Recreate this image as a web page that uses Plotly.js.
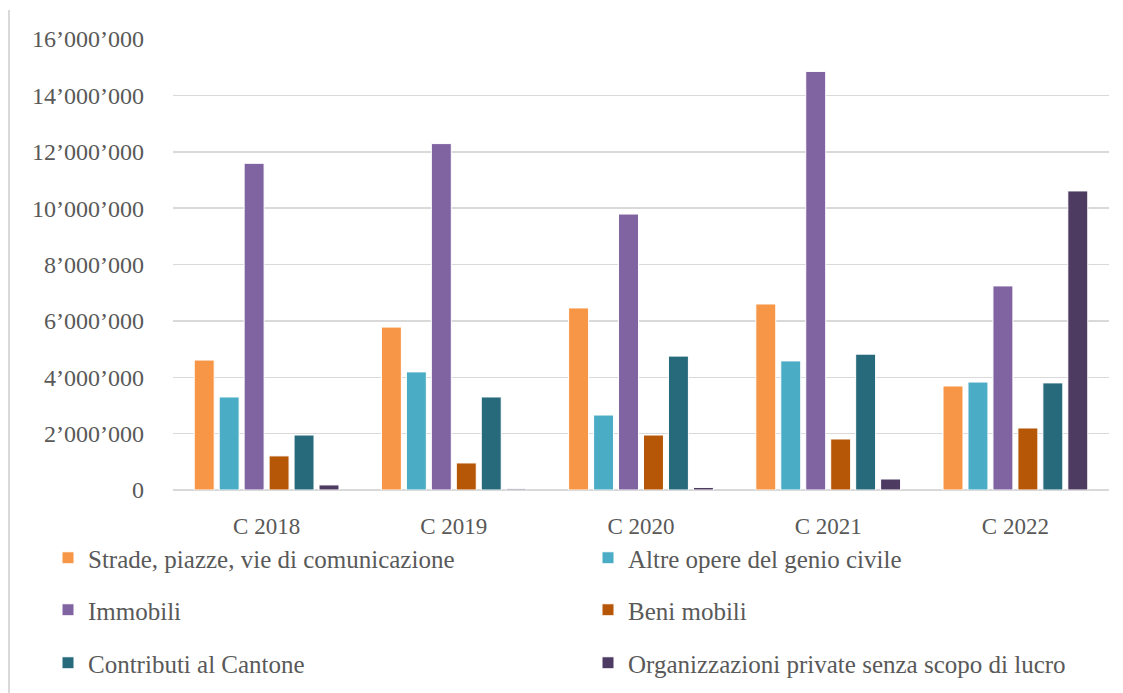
<!DOCTYPE html>
<html>
<head>
<meta charset="utf-8">
<script src="https://cdn.plot.ly/plotly-3.0.1.min.js"></script>
<style>
html,body{margin:0;padding:0;background:#fff;}
#chart{width:1123px;height:693px;}
</style>
</head>
<body>
<div id="chart"></div>
<script>
const categories = ["C 2018", "C 2019", "C 2020", "C 2021", "C 2022"];
const seriesNames = [
  "Strade, piazze, vie di comunicazione",
  "Altre opere del genio civile",
  "Immobili",
  "Beni mobili",
  "Contributi al Cantone",
  "Organizzazioni private senza scopo di lucro"
];
const strade = [4610000, 5780000, 6460000, 6600000, 3690000];
const altreOpere = [3300000, 4190000, 2660000, 4580000, 3830000];
const immobili = [11590000, 12290000, 9790000, 14850000, 7240000];
const beniMobili = [1210000, 960000, 1950000, 1810000, 2200000];
const contributi = [1950000, 3300000, 4750000, 4820000, 3800000];
const organizzazioni = [180000, 40000, 90000, 390000, 10610000];
const yTicks = [0, 2000000, 4000000, 6000000, 8000000, 10000000, 12000000, 14000000, 16000000];

const seriesValues = [strade, altreOpere, immobili, beniMobili, contributi, organizzazioni];
const colors = ["#F79646", "#4BACC6", "#8064A2", "#B65708", "#276A7C", "#4D3B62"];
const legendIds = ["legend", "legend2", "legend3", "legend4", "legend5", "legend6"];

const FONT = "Liberation Serif, DejaVu Serif, serif";
const GREY = "#595959";

const traces = seriesValues.map((vals, i) => ({
  type: "bar",
  name: seriesNames[i],
  x: categories,
  y: vals,
  legend: legendIds[i],
  marker: {color: colors[i], line: {color: "#ffffff", width: 1}},
  hoverinfo: "skip"
}));

const plotTop = 39, plotBottom = 490, plotLeft = 173, plotRight = 1109;
const ph = plotBottom - plotTop, pw = plotRight - plotLeft;
function py(pix){ return (plotBottom - pix) / ph; }
function px(pix){ return (pix - plotLeft) / pw; }

function legendAt(xPix, yPix){
  return {
    orientation: "v",
    x: px(xPix), xanchor: "left",
    y: py(yPix), yanchor: "middle",
    font: {family: FONT, size: 25, color: GREY},
    bgcolor: "rgba(0,0,0,0)"
  };
}

const layout = {
  width: 1123, height: 693,
  margin: {l: plotLeft, r: 1123 - plotRight, t: plotTop, b: 693 - plotBottom, pad: 0, autoexpand: false},
  paper_bgcolor: "#ffffff",
  plot_bgcolor: "#ffffff",
  separators: ".\u2019",
  barmode: "group",
  bargap: 0.2,
  bargroupgap: 0.2,
  showlegend: true,
  font: {family: FONT, color: GREY},
  xaxis: {
    type: "category",
    showgrid: false,
    showline: false,
    ticks: "",
    ticklabelstandoff: 20,
    tickfont: {family: FONT, size: 23, color: GREY},
    fixedrange: true
  },
  yaxis: {
    range: [0, 16000000],
    tickvals: yTicks,
    tickformat: ",d",
    showgrid: true,
    gridcolor: "#d9d9d9",
    gridwidth: 1.5,
    zeroline: true,
    zerolinecolor: "#d9d9d9",
    zerolinewidth: 1.5,
    showline: false,
    ticks: "",
    ticklabelstandoff: 28,
    tickfont: {family: FONT, size: 24, color: GREY},
    fixedrange: true
  },
  legend: legendAt(48, 558),
  legend2: legendAt(588, 558),
  legend3: legendAt(48, 610),
  legend4: legendAt(588, 610),
  legend5: legendAt(48, 663),
  legend6: legendAt(588, 663),
  shapes: [{
    type: "line", xref: "paper", yref: "paper",
    x0: px(9), x1: px(9), y0: py(693), y1: py(10),
    line: {color: "#d9d9d9", width: 2}
  }]
};

Plotly.newPlot("chart", traces, layout, {displayModeBar: false, staticPlot: true});
</script>
</body>
</html>
